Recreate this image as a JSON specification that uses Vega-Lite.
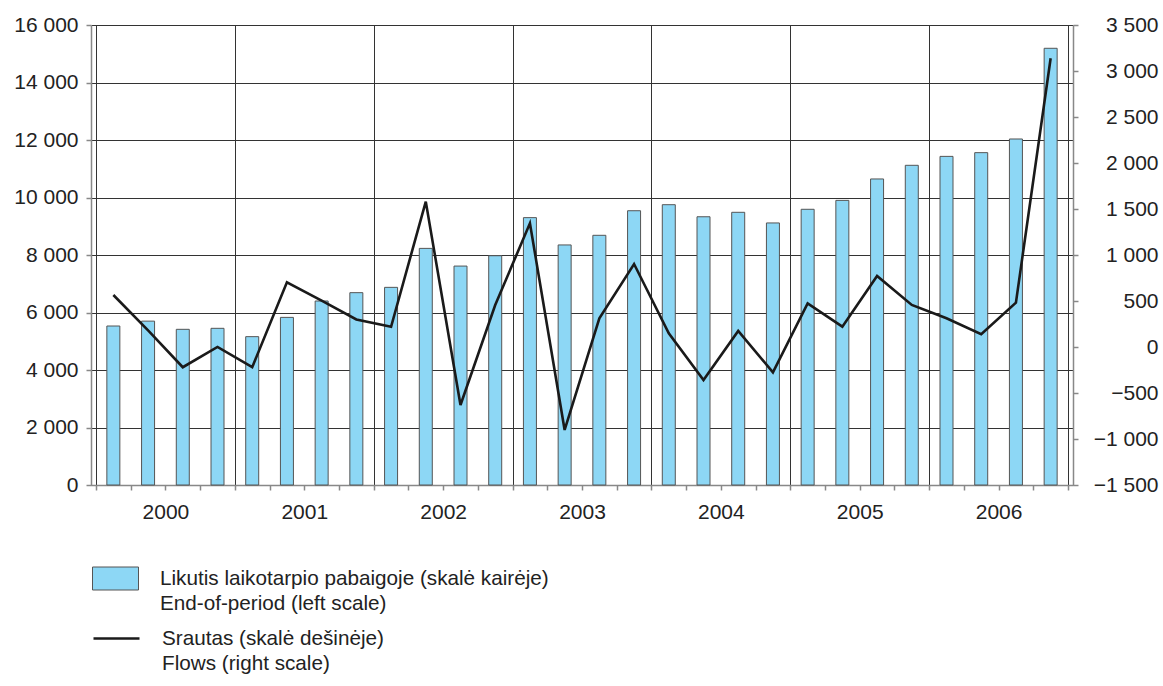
{
  "$schema": "https://vega.github.io/schema/vega-lite/v6.json",
  "width": 982,
  "height": 460,
  "autosize": {"type": "none"},
  "padding": {"left": 91, "top": 25, "right": 90, "bottom": 201},
  "background": "white",
  "config": {
    "view": {"stroke": null},
    "font": "Liberation Sans",
    "axis": {"labelFont": "Liberation Sans", "labelFontSize": 21, "labelColor": "#222", "title": null}
  },
  "data": {
    "values": [
      {"q": 2000.125, "period": "2000 Q1", "balance": 5530, "flow": 565},
      {"q": 2000.375, "period": "2000 Q2", "balance": 5700, "flow": 180},
      {"q": 2000.625, "period": "2000 Q3", "balance": 5415, "flow": -220},
      {"q": 2000.875, "period": "2000 Q4", "balance": 5450, "flow": 0},
      {"q": 2001.125, "period": "2001 Q1", "balance": 5160, "flow": -220},
      {"q": 2001.375, "period": "2001 Q2", "balance": 5830, "flow": 703},
      {"q": 2001.625, "period": "2001 Q3", "balance": 6400, "flow": 505},
      {"q": 2001.875, "period": "2001 Q4", "balance": 6690, "flow": 300},
      {"q": 2002.125, "period": "2002 Q1", "balance": 6875, "flow": 220},
      {"q": 2002.375, "period": "2002 Q2", "balance": 8230, "flow": 1580},
      {"q": 2002.625, "period": "2002 Q3", "balance": 7615, "flow": -630},
      {"q": 2002.875, "period": "2002 Q4", "balance": 7975, "flow": 456},
      {"q": 2003.125, "period": "2003 Q1", "balance": 9300, "flow": 1345},
      {"q": 2003.375, "period": "2003 Q2", "balance": 8350, "flow": -902},
      {"q": 2003.625, "period": "2003 Q3", "balance": 8685, "flow": 312},
      {"q": 2003.875, "period": "2003 Q4", "balance": 9540, "flow": 902},
      {"q": 2004.125, "period": "2004 Q1", "balance": 9750, "flow": 149},
      {"q": 2004.375, "period": "2004 Q2", "balance": 9330, "flow": -359},
      {"q": 2004.625, "period": "2004 Q3", "balance": 9485, "flow": 174},
      {"q": 2004.875, "period": "2004 Q4", "balance": 9115, "flow": -275},
      {"q": 2005.125, "period": "2005 Q1", "balance": 9590, "flow": 475},
      {"q": 2005.375, "period": "2005 Q2", "balance": 9900, "flow": 221},
      {"q": 2005.625, "period": "2005 Q3", "balance": 10645, "flow": 772},
      {"q": 2005.875, "period": "2005 Q4", "balance": 11120, "flow": 457},
      {"q": 2006.125, "period": "2006 Q1", "balance": 11430, "flow": 312},
      {"q": 2006.375, "period": "2006 Q2", "balance": 11560, "flow": 138},
      {"q": 2006.625, "period": "2006 Q3", "balance": 12035, "flow": 482},
      {"q": 2006.875, "period": "2006 Q4", "balance": 15190, "flow": 3138}
    ]
  },
  "encoding": {
    "x": {
      "field": "q",
      "type": "quantitative",
      "scale": {"domain": [2000, 2007], "nice": false, "zero": false},
      "axis": {
        "orient": "bottom",
        "values": [2000, 2000.25, 2000.5, 2000.75, 2001, 2001.25, 2001.5, 2001.75, 2002, 2002.25, 2002.5, 2002.75, 2003, 2003.25, 2003.5, 2003.75, 2004, 2004.25, 2004.5, 2004.75, 2005, 2005.25, 2005.5, 2005.75, 2006, 2006.25, 2006.5, 2006.75, 2007],
        "labelExpr": "datum.value % 1 == 0.5 ? '' + floor(datum.value) : ''",
        "labelFlush": false,
        "labelOverlap": false,
        "labelPadding": 11,
        "grid": true,
        "gridColor": "#333",
        "gridWidth": 1,
        "gridOpacity": {"condition": {"test": "datum.value % 1 == 0", "value": 1}, "value": 0},
        "tickSize": 5,
        "tickColor": "#888",
        "tickWidth": 1.5,
        "domainColor": "#888",
        "domainWidth": 1.5
      }
    }
  },
  "layer": [
    {
      "mark": {"type": "bar", "size": 13, "stroke": "#555", "strokeWidth": 1},
      "encoding": {
        "y": {
          "field": "balance",
          "type": "quantitative",
          "scale": {"domain": [0, 16000], "nice": false},
          "axis": {
            "orient": "left",
            "values": [0, 2000, 4000, 6000, 8000, 10000, 12000, 14000, 16000],
            "labelExpr": "replace(format(datum.value, ','), ',', ' ')",
            "grid": true,
            "gridColor": "#333",
            "gridWidth": 1,
            "tickSize": 5,
            "tickColor": "#888",
            "tickWidth": 1.5,
            "domainColor": "#888",
            "domainWidth": 1.5,
            "labelPadding": 8
          }
        },
        "fill": {
          "datum": "Likutis laikotarpio pabaigoje (skalė kairėje)|End-of-period (left scale)",
          "scale": {"range": ["#8DD7F5"]},
          "legend": {
            "orient": "none",
            "legendX": 1,
            "legendY": 530,
            "title": null,
            "padding": 0,
            "symbolType": "M-1,-0.5H1V0.5H-1Z",
            "symbolSize": 2116,
            "symbolStrokeColor": "#555",
            "symbolStrokeWidth": 1,
            "labelExpr": "split(datum.label, '|')",
            "labelFont": "Liberation Sans",
            "labelFontSize": 20.7,
            "labelColor": "#222",
            "labelOffset": 21,
            "labelLimit": 800,
            "encode": {"labels": {"update": {"lineHeight": {"value": 25}}}}
          }
        }
      }
    },
    {
      "mark": {"type": "line", "strokeWidth": 2.6, "strokeJoin": "miter"},
      "encoding": {
        "y": {
          "field": "flow",
          "type": "quantitative",
          "scale": {"domain": [-1500, 3500], "nice": false, "zero": false},
          "axis": {
            "orient": "right",
            "values": [-1500, -1000, -500, 0, 500, 1000, 1500, 2000, 2500, 3000, 3500],
            "labelExpr": "replace(format(datum.value, ','), ',', ' ')",
            "grid": false,
            "tickSize": 5,
            "tickColor": "#888",
            "tickWidth": 1.5,
            "domainColor": "#888",
            "domainWidth": 1.5,
            "labelAlign": "right",
            "labelPadding": 80
          }
        },
        "stroke": {
          "datum": "Srautas (skalė dešinėje)|Flows (right scale)",
          "scale": {"range": ["#1a1a1a"]},
          "legend": {
            "orient": "none",
            "legendX": 1,
            "legendY": 589,
            "title": null,
            "padding": 0,
            "symbolType": "stroke",
            "symbolSize": 2116,
            "symbolStrokeWidth": 2.6,
            "labelExpr": "split(datum.label, '|')",
            "labelFont": "Liberation Sans",
            "labelFontSize": 20.7,
            "labelColor": "#222",
            "labelOffset": 21,
            "labelLimit": 800,
            "encode": {"labels": {"update": {"lineHeight": {"value": 25}}}}
          }
        }
      }
    }
  ],
  "resolve": {"scale": {"y": "independent"}}
}
